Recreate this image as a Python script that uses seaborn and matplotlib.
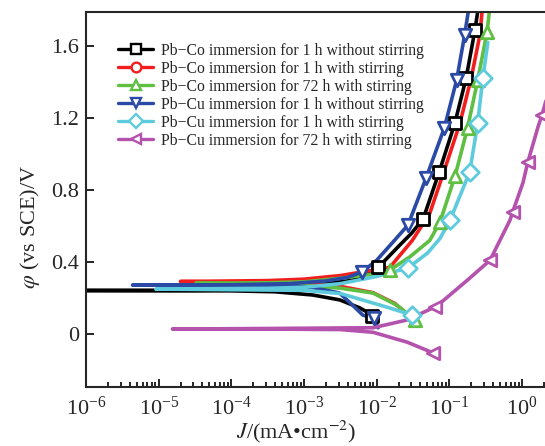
import numpy as np
import pandas as pd
import matplotlib
matplotlib.use('Agg')
import matplotlib.pyplot as plt
from matplotlib.lines import Line2D
from matplotlib.ticker import LogLocator, NullLocator
import seaborn as sns

sns.set_style('ticks')
plt.rcParams['font.family'] = ['Liberation Serif', 'DejaVu Serif']
plt.rcParams['mathtext.fontset'] = 'stix'
plt.rcParams['xtick.direction'] = 'in'
plt.rcParams['ytick.direction'] = 'in'

# series (legend order)
series_names = [
    'Pb\u2212Co immersion for 1 h without stirring',
    'Pb\u2212Co immersion for 1 h with stirring',
    'Pb\u2212Co immersion for 72 h with stirring',
    'Pb\u2212Cu immersion for 1 h without stirring',
    'Pb\u2212Cu immersion for 1 h with stirring',
    'Pb\u2212Cu immersion for 72 h with stirring',
]
series_colors = ['#000000', '#f21e1e', '#5fbf42', '#2b4aa6', '#5ecbdd', '#b452ae']
series_markers = ['s', 'o', '^', 'v', 'D', '<']

# polarization curves, log10(J / mA cm-2) and potential (V vs SCE)
# each runs from the cathodic end, left to the corrosion point, then up the anodic branch
pbco_1h_nostir_logj = [-2.05, -2.10, -2.23, -2.51, -2.88, -3.40, -4.00, -6.00,
                       -4.50, -3.50, -3.00, -2.60, -2.33, -2.10, -1.98, -1.68, -1.52,
                       -1.36, -1.14, -0.925, -0.77, -0.647, -0.61]
pbco_1h_nostir_phi = [0.09, 0.115, 0.145, 0.19, 0.217, 0.235, 0.240, 0.242,
                      0.243, 0.246, 0.26, 0.285, 0.30, 0.345, 0.37, 0.495, 0.56,
                      0.64, 0.90, 1.17, 1.42, 1.69, 1.79]

pbco_1h_stir_logj = [-1.55, -1.75, -2.05, -2.50, -3.20, -4.70,
                     -3.50, -3.00, -2.50, -2.20, -1.82, -1.51, -1.27, -1.06,
                     -0.855, -0.70, -0.58, -0.55]
pbco_1h_stir_phi = [0.10, 0.17, 0.23, 0.265, 0.285, 0.292,
                    0.297, 0.305, 0.325, 0.345, 0.37, 0.52, 0.67, 0.92,
                    1.17, 1.42, 1.66, 1.79]

pbco_72h_stir_logj = [-1.47, -1.52, -1.72, -2.05, -2.50, -3.20, -4.49,
                      -3.50, -3.00, -2.50, -2.10, -1.82, -1.54, -1.27, -1.13,
                      -0.92, -0.75, -0.61, -0.48, -0.45]
pbco_72h_stir_phi = [0.078, 0.095, 0.16, 0.228, 0.255, 0.275, 0.282,
                     0.285, 0.29, 0.31, 0.33, 0.355, 0.43, 0.52, 0.62,
                     0.88, 1.144, 1.41, 1.68, 1.79]

pbcu_1h_nostir_logj = [-1.98, -2.05, -2.19, -2.33, -2.51, -2.90, -3.50, -5.36,
                       -4.00, -3.20, -2.70, -2.40, -2.20, -2.00, -1.80, -1.57,
                       -1.32, -1.07, -0.90, -0.79, -0.74]
pbcu_1h_nostir_phi = [0.035, 0.09, 0.105, 0.16, 0.228, 0.26, 0.27, 0.272,
                      0.274, 0.28, 0.295, 0.315, 0.345, 0.41, 0.50, 0.605,
                      0.867, 1.144, 1.41, 1.66, 1.79]

pbcu_1h_stir_logj = [-1.50, -1.55, -1.82, -2.20, -2.50, -3.00, -5.04,
                     -3.50, -3.00, -2.50, -2.00, -1.57, -1.30, -1.13, -0.99,
                     -0.72, -0.61, -0.54, -0.47]
pbcu_1h_stir_phi = [0.095, 0.11, 0.145, 0.19, 0.225, 0.243, 0.25,
                    0.254, 0.26, 0.28, 0.32, 0.367, 0.45, 0.53, 0.633,
                    0.90, 1.17, 1.42, 1.62]

pbcu_72h_stir_logj = [-1.22, -1.58, -2.05, -2.50, -3.50, -4.81,
                      -3.50, -2.50, -2.05, -1.585, -1.20, -1.13, -0.75,
                      -0.44, -0.165, -0.127, 0.013, 0.08, 0.22, 0.275, 0.34]
pbcu_72h_stir_phi = [-0.105, -0.045, 0.01, 0.025, 0.028, 0.028,
                     0.031, 0.034, 0.035, 0.078, 0.15, 0.17, 0.30,
                     0.41, 0.633, 0.68, 0.84, 0.955, 1.15, 1.217, 1.31]

# symbol positions along each curve
pbco_1h_nostir_mk_logj = [-2.07, -1.98, -1.36, -1.14, -0.925, -0.77, -0.647]
pbco_1h_nostir_mk_phi = [0.10, 0.37, 0.64, 0.90, 1.17, 1.42, 1.69]
pbco_1h_stir_mk_logj = []
pbco_1h_stir_mk_phi = []
pbco_72h_stir_mk_logj = [-1.47, -1.82, -1.13, -0.92, -0.75, -0.61, -0.48]
pbco_72h_stir_mk_phi = [0.078, 0.355, 0.62, 0.88, 1.144, 1.41, 1.68]
pbcu_1h_nostir_mk_logj = [-2.03, -2.20, -1.57, -1.32, -1.07, -0.90, -0.79]
pbcu_1h_nostir_mk_phi = [0.088, 0.345, 0.605, 0.867, 1.144, 1.41, 1.66]
pbcu_1h_stir_mk_logj = [-1.51, -1.57, -0.99, -0.72, -0.61, -0.54]
pbcu_1h_stir_mk_phi = [0.105, 0.367, 0.633, 0.90, 1.17, 1.42]
pbcu_72h_stir_mk_logj = [-1.22, -1.20, -0.44, -0.127, 0.08, 0.275]
pbcu_72h_stir_mk_phi = [-0.105, 0.15, 0.41, 0.68, 0.955, 1.217]

xtick_vals = [1e-6, 1e-5, 1e-4, 1e-3, 1e-2, 1e-1, 1e0]
ytick_vals = [0, 0.4, 0.8, 1.2, 1.6]
ytick_labels = ['0', '0.4', '0.8', '1.2', '1.6']

curves_logj = [pbco_1h_nostir_logj, pbco_1h_stir_logj, pbco_72h_stir_logj,
               pbcu_1h_nostir_logj, pbcu_1h_stir_logj, pbcu_72h_stir_logj]
curves_phi = [pbco_1h_nostir_phi, pbco_1h_stir_phi, pbco_72h_stir_phi,
              pbcu_1h_nostir_phi, pbcu_1h_stir_phi, pbcu_72h_stir_phi]
marks_logj = [pbco_1h_nostir_mk_logj, pbco_1h_stir_mk_logj, pbco_72h_stir_mk_logj,
              pbcu_1h_nostir_mk_logj, pbcu_1h_stir_mk_logj, pbcu_72h_stir_mk_logj]
marks_phi = [pbco_1h_nostir_mk_phi, pbco_1h_stir_mk_phi, pbco_72h_stir_mk_phi,
             pbcu_1h_nostir_mk_phi, pbcu_1h_stir_mk_phi, pbcu_72h_stir_mk_phi]

frames = []
for name, lj, ph in zip(series_names, curves_logj, curves_phi):
    frames.append(pd.DataFrame({'J': 10.0 ** np.array(lj), 'phi': ph, 'series': name}))
df = pd.concat(frames, ignore_index=True)

fig = plt.figure(figsize=(5.45, 4.46), dpi=100)
ax = fig.add_axes([86 / 545, 59 / 446, 461 / 545, 375 / 446])
ax.set_xscale('log')

palette = dict(zip(series_names, series_colors))
sns.lineplot(data=df, x='J', y='phi', hue='series', hue_order=series_names,
             palette=palette, estimator=None, sort=False, linewidth=2.6,
             legend=False, ax=ax)

for lj, ph, c, m in zip(marks_logj, marks_phi, series_colors, series_markers):
    if len(lj) == 0:
        continue
    sns.scatterplot(x=10.0 ** np.array(lj), y=ph, marker=m, s=80, color='white',
                    edgecolor=c, linewidth=2.0, zorder=3, ax=ax)

ax.set_xlim(1e-6, 10 ** 0.344)
ax.set_ylim(-0.294, 1.789)
ax.set_xticks(xtick_vals)
ax.xaxis.set_minor_locator(LogLocator(base=10, subs=np.arange(2, 10), numticks=20))
ax.set_yticks(ytick_vals)
ax.set_yticklabels(ytick_labels)
ax.yaxis.set_minor_locator(NullLocator())

ax.tick_params(which='both', direction='in', width=1.4, top=False, right=False)
ax.tick_params(which='major', length=6, labelsize=16)
ax.tick_params(which='minor', length=3.5)
ax.tick_params(axis='x', pad=7)
ax.tick_params(axis='y', pad=5)
for sp in ax.spines.values():
    sp.set_linewidth(1.5)

ax.set_xlabel('$J$/(mA\u2022cm$^{-2}$)', fontsize=16)
ax.set_ylabel(r'$\varphi$ (vs SCE)/V', fontsize=16)
ax.xaxis.set_label_coords(0.455, -0.085)
ax.yaxis.set_label_coords(-0.095, 0.427)

handles = [Line2D([], [], color=c, lw=2.4, marker=m, markersize=7,
                  markerfacecolor='white', markeredgecolor=c, markeredgewidth=1.7)
           for c, m in zip(series_colors, series_markers)]
ax.legend(handles, series_names, loc='upper left', bbox_to_anchor=(0.07, 0.918),
          frameon=False, fontsize=11.3, handlelength=2.2, handletextpad=0.5,
          labelspacing=0.13, borderpad=0, borderaxespad=0)

fig.savefig('out.png', dpi=100)
